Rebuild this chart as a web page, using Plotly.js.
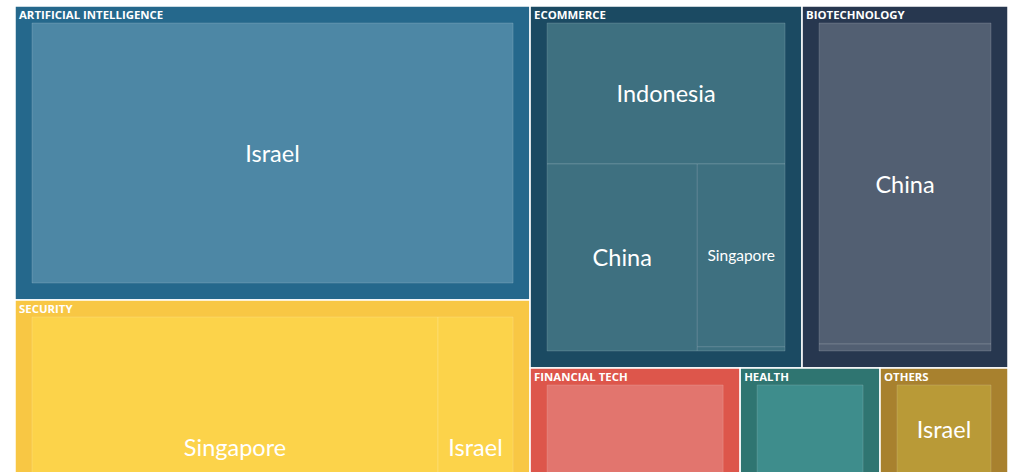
<!DOCTYPE html>
<html>
<head>
<meta charset="utf-8">
<script src="https://cdn.plot.ly/plotly-3.0.1.min.js"></script>
<style>
  html, body { margin: 0; padding: 0; background: #ffffff; overflow: hidden; }
  #clip { width: 1024px; height: 472px; overflow: hidden; position: relative; }
  #chart { width: 1027px; height: 630px; position: absolute; left: -2px; top: -20px; }
</style>
</head>
<body>
<div id="clip"><div id="chart"></div></div>
<script>
// ---- data ----
const sectors = ["ARTIFICIAL INTELLIGENCE", "SECURITY", "ECOMMERCE", "BIOTECHNOLOGY", "FINANCIAL TECH", "HEALTH", "OTHERS"];
const sectorColors = ["#25688c", "#f8c744", "#1b4a62", "#27374f", "#dd564b", "#2f7571", "#a8812e"];
const leafColors = ["#4d87a5", "#fcd34a", "#3e7080", "#525f72", "#e2756e", "#3e8d8c", "#b99a37"];

const leafSector  = ["ARTIFICIAL INTELLIGENCE", "SECURITY", "SECURITY", "ECOMMERCE", "ECOMMERCE", "ECOMMERCE", "ECOMMERCE", "BIOTECHNOLOGY", "BIOTECHNOLOGY", "FINANCIAL TECH", "HEALTH", "OTHERS", "OTHERS"];
const leafCountry = ["Israel", "Singapore", "Israel", "Indonesia", "China", "Singapore", "Other", "China", "Other", "Singapore", "Israel", "Israel", "Other"];
const leafValue   = [259.8, 218.5, 40.4, 72.6, 60.8, 34.7, 0.8, 125.2, 2.7, 81.1, 54.0, 23.0, 26.4];
const leafFontSize = [23.5, 23.5, 23.5, 23.5, 23.5, 15.5, 10, 23.5, 10, 22, 22, 23.5, 22];
// labels that fall inside the visible (cropped) area of the reference
const leafShowText = [true, true, true, true, true, true, false, true, false, false, false, true, false];

// ---- build treemap arrays ----
const ids = [], labels = [], parents = [], values = [], colors = [];
const lineColors = [], lineWidths = [];
const headTpl = [], headCol = [], leafTpl = [], leafCol = [], fontSizes = [];
const CLEAR = "rgba(0,0,0,0)";

sectors.forEach((s, i) => {
  ids.push(s); labels.push(s); parents.push(""); values.push(0);
  colors.push(sectorColors[i]);
  lineColors.push("#ffffff"); lineWidths.push(1.5);
  headTpl.push("%{label}"); headCol.push("#ffffff");
  leafTpl.push(" "); leafCol.push(CLEAR);
  fontSizes.push(11.4);
});
leafSector.forEach((s, j) => {
  const si = sectors.indexOf(s);
  ids.push(s + "/" + leafCountry[j] + "/" + j);
  labels.push(leafCountry[j]);
  parents.push(s);
  values.push(leafValue[j]);
  colors.push(leafColors[si]);
  lineColors.push("rgba(255,255,255,0.15)"); lineWidths.push(1);
  headTpl.push(" "); headCol.push(CLEAR);
  leafTpl.push(leafShowText[j] ? "%{label}" : " ");
  leafCol.push(leafShowText[j] ? "#ffffff" : CLEAR);
  fontSizes.push(leafFontSize[j]);
});

const common = {
  type: "treemap",
  ids: ids, labels: labels, parents: parents, values: values,
  branchvalues: "remainder",
  sort: false,
  leaf: { opacity: 1 },
  tiling: { packing: "binary", pad: 0 },
  pathbar: { visible: false },
  hoverinfo: "label+value"
};
const PAD = { t: 17, l: 17, r: 17, b: 17 };
const HEAD_PAD = { t: 24, l: 4, r: 17, b: 17 };
const HEAD_LIFT = 2;
const W = 1027, HT = 630;
const boxDomain = { x: [0, 1], y: [0, 1 - (HEAD_PAD.t - PAD.t + HEAD_LIFT) / HT] };
const headDomain = { x: [(PAD.l - HEAD_PAD.l) / W, 1], y: [HEAD_LIFT / HT, 1] };

// 1) coloured boxes
const boxes = Object.assign({}, common, {
  domain: boxDomain,
  texttemplate: ids.map(() => " "),
  textfont: { color: CLEAR },
  marker: { colors: colors, line: { color: lineColors, width: lineWidths }, pad: PAD }
});

// 2) country labels, centred in each leaf
const countryText = Object.assign({}, common, {
  domain: boxDomain,
  texttemplate: leafTpl,
  textposition: "middle center",
  textfont: { family: "Lato, 'Open Sans', sans-serif", color: leafCol, size: fontSizes },
  marker: { colors: ids.map(() => CLEAR), line: { color: CLEAR, width: 0 }, pad: PAD }
});

// 3) sector headers, top-left, close to the sector edge (same sector geometry)
const headerText = Object.assign({}, common, {
  domain: headDomain,
  texttemplate: headTpl,
  textposition: "top left",
  textfont: { family: "'Open Sans', Lato, sans-serif", color: headCol, size: fontSizes, weight: 700 },
  marker: { colors: ids.map(() => CLEAR), line: { color: CLEAR, width: 0 }, pad: HEAD_PAD }
});

function cleanTexts(gd) {
  // drop empty or fully transparent placeholder text nodes left by the layered traces
  gd.querySelectorAll("text").forEach(t => {
    const cs = window.getComputedStyle(t);
    const fill = (t.style.fill || cs.fill || "").replace(/\s/g, "");
    const fo = parseFloat(t.style.fillOpacity !== "" ? t.style.fillOpacity : cs.fillOpacity);
    const invisible = fo === 0 || /^rgba\(.*,0(\.0+)?\)$/.test(fill) || fill === "transparent" || fill === "none";
    if (t.textContent.trim() === "" || invisible) t.remove();
  });
}

Plotly.newPlot("chart", [boxes, countryText, headerText], {
  width: W, height: HT,
  margin: { l: 0, r: 0, t: 0, b: 0 },
  paper_bgcolor: CLEAR,
  font: { family: "Lato, 'Open Sans', sans-serif" }
}, { displayModeBar: false, staticPlot: true }).then(gd => {
  cleanTexts(gd);
  gd.on && gd.on("plotly_afterplot", () => cleanTexts(gd));
});
</script>
</body>
</html>
